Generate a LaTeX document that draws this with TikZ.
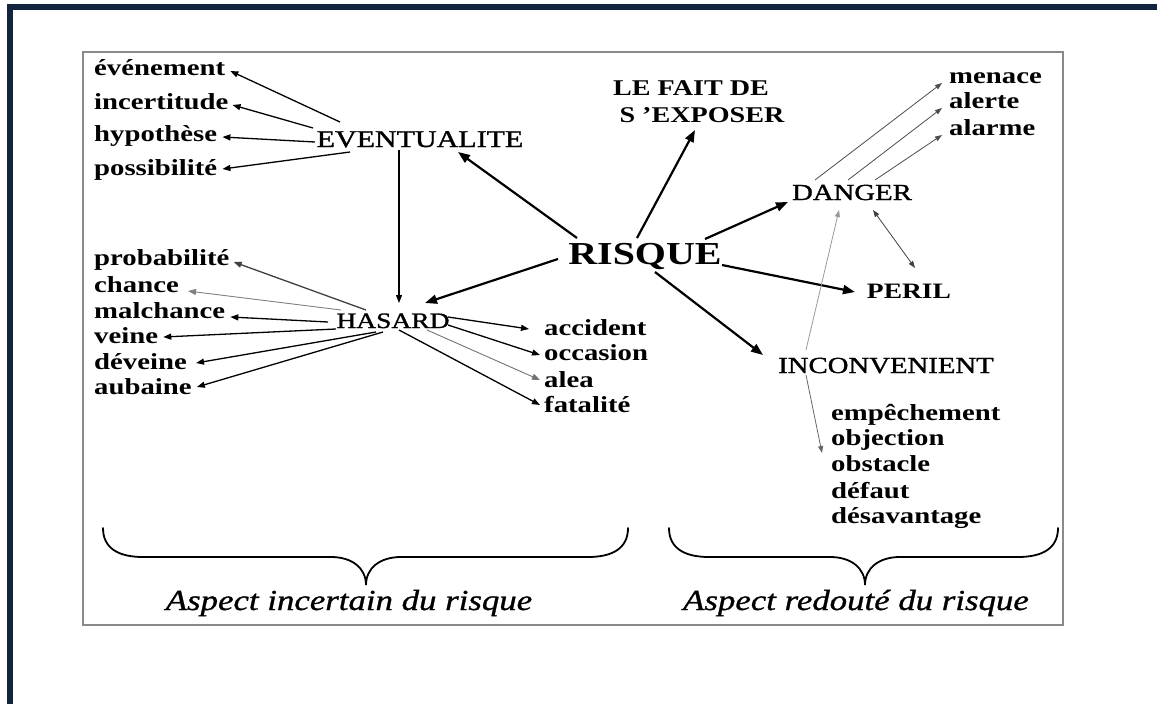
\documentclass[tikz,border=0pt]{standalone}
\usepackage{fontspec}
\setmainfont{Liberation Serif}[FakeStretch=1.25]
\newfontfamily\medfont{Liberation Serif}[FakeStretch=1.25, FakeBold=1.3]
\newfontfamily\labfont{Liberation Serif}[FakeStretch=1.2, FakeBold=1.0]
\usetikzlibrary{arrows.meta,calc}
\definecolor{navy}{HTML}{13243F}
\definecolor{boxgray}{HTML}{8A8A8A}
\begin{document}
\begin{tikzpicture}[x=1pt,y=-1pt,
  word/.style={inner sep=0pt, anchor=base west, font=\fontsize{23}{26}\selectfont\bfseries},
  key/.style={inner sep=0pt, anchor=base, font=\fontsize{23}{26}\selectfont},
  big/.style={line width=2.2pt, -{Triangle[length=12pt,width=9pt]}},
  med/.style={line width=1.3pt, -{Triangle[length=8pt,width=6pt]}},
  thinarr/.style={line width=0.8pt, -{Triangle[length=7pt,width=5pt]}},
  thinboth/.style={line width=0.8pt, {Triangle[length=7pt,width=5pt]}-{Triangle[length=7pt,width=5pt]}},
  brace/.style={line width=1.8pt, line cap=round}
]
\useasboundingbox (0,0) rectangle (1157,704);
% frame
\fill[navy] (7,4) rectangle (1157,10);
\fill[navy] (7,4) rectangle (13,704);
\draw[boxgray, line width=2pt] (83,52) rectangle (1063,625);

% nodes
\node[key, font=\fontsize{24}{26}\medfont] (ev) at (420,147) {EVENTUALITE};
\node[word] (eve) at (94,75) {événement};
\node[word] (inc) at (94,109) {incertitude};
\node[word] (hyp) at (94,141) {hypothèse};
\node[word] (pos) at (94,175) {possibilité};
\node[word] (prob) at (94,265) {probabilité};
\node[word] (cha) at (94,292) {chance};
\node[word] (mal) at (94,318) {malchance};
\node[word] (vei) at (94,343) {veine};
\node[word] (dev) at (94,369) {déveine};
\node[word] (aub) at (94,394) {aubaine};
\node[key, font=\fontsize{22}{24}\medfont] (has) at (393,328) {HASARD};
\node[word] (acc) at (544,335) {accident};
\node[word] (occ) at (544,360) {occasion};
\node[word] (alea) at (544,387) {alea};
\node[word] (fat) at (544,412) {fatalité};
\node[key, font=\fontsize{32}{34}\selectfont\bfseries] (risq) at (645,264) {RISQUE};
\node[key, font=\fontsize{22.5}{26}\selectfont\bfseries] (fait) at (691,95) {LE FAIT DE};
\node[key, font=\fontsize{22.5}{26}\selectfont\bfseries] (expo) at (702,122) {S ’EXPOSER};
\node[word] (men) at (949,83) {menace};
\node[word] (alte) at (949,108) {alerte};
\node[word] (alar) at (949,135) {alarme};
\node[key, font=\fontsize{23}{26}\medfont] (dan) at (852,200) {DANGER};
\node[key, font=\fontsize{22}{26}\selectfont\bfseries] (per) at (909,298) {PERIL};
\node[key, font=\fontsize{23}{26}\medfont] (inco) at (886,373) {INCONVENIENT};
\node[word] (emp) at (831,420) {empêchement};
\node[word] (obj) at (831,445) {objection};
\node[word] (obs) at (831,471) {obstacle};
\node[word] (def) at (831,498) {défaut};
\node[word] (des) at (831,523) {désavantage};
\node[key, font=\fontsize{29}{30}\labfont\itshape] (asp1) at (349,610) {Aspect incertain du risque};
\node[key, font=\fontsize{29}{30}\labfont\itshape] (asp2) at (856,610) {Aspect redouté du risque};

% EVENTUALITE arrows
\draw[med] ($(ev.base)+(-80,-25)$) -- ($(eve.base east)+(5,-4)$);
\draw[med] ($(ev.base)+(-107,-19)$) -- ($(inc.base east)+(4,-4)$);
\draw[med] ($(ev.base)+(-105,-5)$) -- ($(hyp.base east)+(5,-4)$);
\draw[med] ($(ev.base)+(-70,5)$) -- ($(pos.base east)+(5,-6)$);
\draw[med] ($(ev.base)+(-21,3)$) -- ($(has.base)+(6,-25)$);

% RISQUE arrows
\draw[big] ($(risq.base)+(-68,-26)$) -- ($(ev.base)+(38,5)$);
\draw[big] ($(risq.base)+(-8,-26)$) -- ($(expo.base)+(-7,8)$);
\draw[big] ($(risq.base)+(60,-25)$) -- ($(dan.base)+(-64,2)$);
\draw[big] ($(risq.base)+(77,1)$) -- ($(per.base)+(-54,-6)$);
\draw[big] ($(risq.base)+(10,8)$) -- ($(inco.base)+(-123,-18)$);
\draw[big] ($(risq.base)+(-87,-5)$) -- ($(has.base)+(32,-25)$);

% HASARD arrows
\draw[med, black!75] ($(has.base)+(-27,-18)$) -- ($(prob.base east)+(4,-3)$);
\draw[med, line width=0.9pt, black!50] ($(has.base)+(-52,-18)$) -- ($(cha.base east)+(9,-1)$);
\draw[med] ($(has.base)+(-65,-6)$) -- ($(mal.base east)+(5,-1)$);
\draw[med] ($(has.base)+(-57,1)$) -- ($(vei.base east)+(5,-6)$);
\draw[med] ($(has.base)+(-17,4)$) -- ($(dev.base east)+(9,-6)$);
\draw[med] ($(has.base)+(-10,4)$) -- ($(aub.base east)+(5,-7)$);
\draw[med] ($(has.base)+(55,-11)$) -- ($(acc.base west)+(-15,-6)$);
\draw[med] ($(has.base)+(55,-3)$) -- ($(occ.base west)+(-4,-5)$);
\draw[med, line width=0.9pt, black!55] ($(has.base)+(34,2)$) -- ($(alea.base west)+(-4,-7)$);
\draw[med] ($(has.base)+(6,2)$) -- ($(fat.base west)+(-4,-7)$);

% DANGER arrows
\draw[thinarr, black!70] ($(dan.base)+(-37,-20)$) -- ($(men.base west)+(-7,0)$);
\draw[thinarr, black!70] ($(dan.base)+(-4,-20)$) -- ($(alte.base west)+(-7,0)$);
\draw[thinarr, black!70] ($(dan.base)+(23,-20)$) -- ($(alar.base west)+(-7,0)$);
\draw[thinboth, black!75] ($(dan.base)+(21,10)$) -- ($(per.base)+(6,-30)$);

% INCONVENIENT arrows
\draw[thinarr, black!40] ($(inco.base)+(-80,-23)$) -- ($(dan.base)+(-13,10)$);
\draw[thinarr, black!60] ($(inco.base)+(-80,2)$) -- ($(obj.base west)+(-9,8)$);

% braces
\draw[brace] (103,528) .. controls (103,548) and (118,557) .. (143,557) -- (331,557)
  .. controls (352,557) and (366,568) .. (366,585)
  .. controls (366,568) and (380,557) .. (401,557) -- (588,557)
  .. controls (613,557) and (628,548) .. (628,528);
\draw[brace] (669,528) .. controls (669,548) and (684,557) .. (709,557) -- (830,557)
  .. controls (851,557) and (865,568) .. (865,585)
  .. controls (865,568) and (879,557) .. (900,557) -- (1018,557)
  .. controls (1043,557) and (1058,548) .. (1058,528);
\end{tikzpicture}
\end{document}
